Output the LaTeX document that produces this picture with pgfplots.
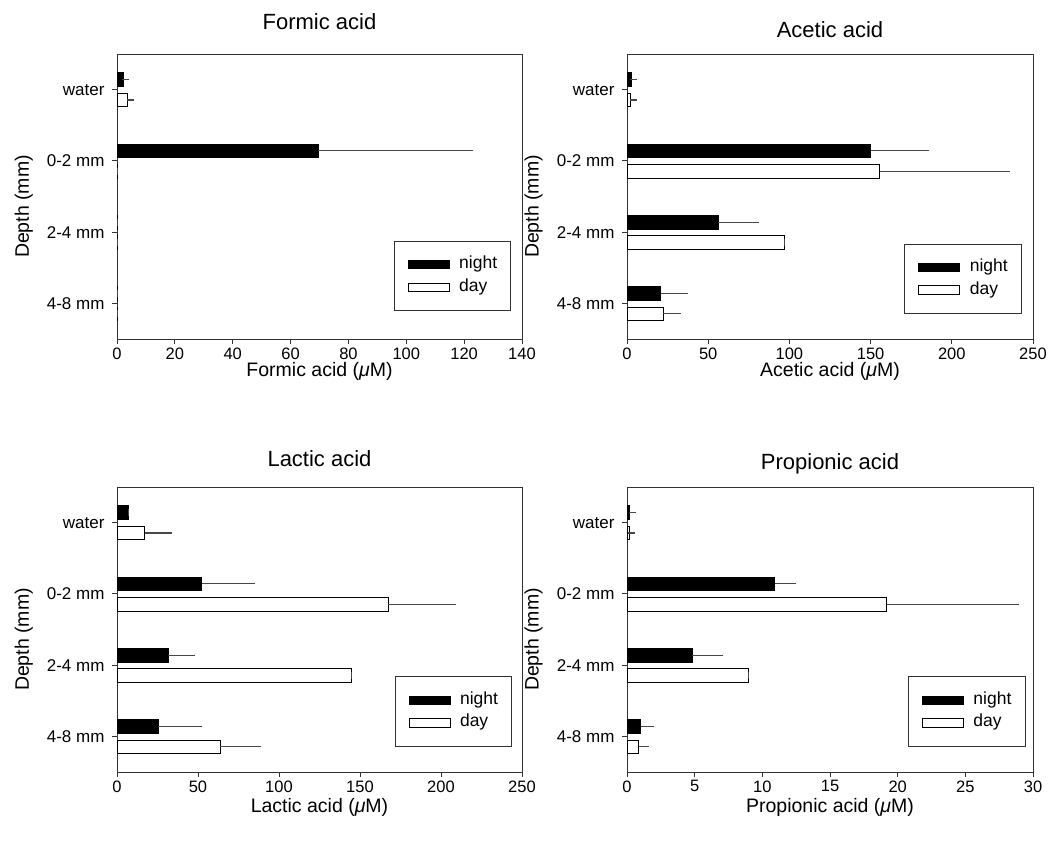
\documentclass[border=0pt]{standalone}
\usepackage{fontspec}
\setmainfont{Liberation Sans}
\usepackage{pgfplots}
\pgfplotsset{compat=1.18}
\newcommand{\um}{{\itshape μ}}
\pgfplotsset{
  acid/.style={
    scale only axis, width=405pt, height=285pt,
    xbar, bar width=0.19,
    ymin=-0.5, ymax=3.5, ytick={0,1,2,3},
    yticklabels={4-8 mm,2-4 mm,0-2 mm,water},
    xmin=0,
    tick pos=left, tick align=outside, major tick length=5pt,
    axis line style={black!80, line width=0.8pt},
    tick style={black!80, line width=0.8pt},
    /pgf/number format/assume math mode=true,
    scaled x ticks=false,
    xticklabel style={font=\fontsize{16.5}{18}\selectfont},
    yticklabel style={font=\fontsize{17}{19}\selectfont, xshift=-4pt},
    label style={font=\fontsize{19.5}{22}\selectfont},
    title style={font=\fontsize{22}{25}\selectfont, anchor=center},
    ylabel={Depth (mm)},
    ylabel style={at={(axis description cs:-0.23,0.465)}, anchor=center},
    xlabel style={at={(axis description cs:0.5,-0.114)}, anchor=center},
    legend style={at={(0.973,0.098)}, anchor=south east, draw=black!80, line width=0.8pt,
      font=\fontsize{17.5}{20}\selectfont, inner xsep=13.5pt, inner ysep=15.5pt,
      row sep=6.5pt, column sep=9.7pt,
      nodes={inner sep=0pt, text height=12pt, text depth=4pt, anchor=west},
      cells={anchor=west}},
    error bars/error bar style={black!72, line width=1.1pt},
    error bars/error mark options={black!72, mark size=3.5pt, line width=1.1pt},
  },
  nightbar/.style={fill=black, draw=black, line width=0.8pt, bar shift=0.14,
    error bars/x dir=plus, error bars/x explicit,
    legend image code/.code={\draw[fill=black,draw=black,line width=0.8pt] (0pt,-4.2pt) rectangle (41pt,4.2pt);}},
  daybar/.style={fill=white, draw=black, line width=0.8pt, bar shift=-0.145,
    error bars/x dir=plus, error bars/x explicit,
    legend image code/.code={\draw[fill=white,draw=black,line width=0.8pt] (0pt,-4.2pt) rectangle (41pt,4.2pt);}},
}
\begin{document}
\begin{tikzpicture}
\path[use as bounding box] (0pt,0pt) rectangle (1048pt,844pt);
% Formic
\begin{axis}[acid, at={(117pt,505pt)}, anchor=south west,
  xmax=140, xtick={0,20,...,140},
  title={Formic acid}, title style={at={(axis description cs:0.5,1.094)}},
  xlabel={Formic acid (\um M)}]
\addplot[nightbar] coordinates {(2.3,3) +- (0.7,0) (69.5,2) +- (52.5,0) (0.2,1) +- (0,0) (0.2,0) +- (0,0)};
\addlegendentry{night}
\addplot[daybar] coordinates {(3.5,3) +- (1.1,0) (0.2,2) +- (0,0) (0.2,1) +- (0,0) (0.2,0) +- (0,0)};
\addlegendentry{day}
\end{axis}
% Acetic
\begin{axis}[acid, at={(627pt,505pt)}, anchor=south west, width=406pt,
  xmax=250, xtick={0,50,...,250},
  title={Acetic acid}, title style={at={(axis description cs:0.5,1.066)}},
  xlabel={Acetic acid (\um M)},
  legend style={at={(0.972,0.088)}}]
\addplot[nightbar] coordinates {(3,3) +- (0.7,0) (150,2) +- (34,0) (56,1) +- (23,0) (20.7,0) +- (14.8,0)};
\addlegendentry{night}
\addplot[daybar] coordinates {(2.2,3) +- (1.5,0) (155.5,2) +- (78.3,0) (97,1) +- (0,0) (22.4,0) +- (8.8,0)};
\addlegendentry{day}
\end{axis}
% Lactic
\begin{axis}[acid, at={(117pt,72pt)}, anchor=south west,
  xmax=250, xtick={0,50,...,250},
  title={Lactic acid}, title style={at={(axis description cs:0.5,1.077)}},
  xlabel={Lactic acid (\um M)}, xlabel style={at={(axis description cs:0.5,-0.124)}},
  legend style={at={(0.975,0.089)}}]
\addplot[nightbar] coordinates {(7,3) +- (0,0) (52.3,2) +- (30.8,0) (31.7,1) +- (14.4,0) (25.5,0) +- (24.7,0)};
\addlegendentry{night}
\addplot[daybar] coordinates {(17,3) +- (15,0) (167.5,2) +- (39.5,0) (144.6,1) +- (0,0) (63.6,0) +- (23.2,0)};
\addlegendentry{day}
\end{axis}
% Propionic
\begin{axis}[acid, at={(627pt,72pt)}, anchor=south west, width=406pt,
  xmax=30, xtick={0,5,...,30},
  title={Propionic acid}, title style={at={(axis description cs:0.5,1.059)}},
  xlabel={Propionic acid (\um M)}, xlabel style={at={(axis description cs:0.5,-0.124)}},
  legend style={at={(0.981,0.089)}}]
\addplot[nightbar] coordinates {(0.2,3) +- (0.17,0) (10.9,2) +- (1.35,0) (4.8,1) +- (2.07,0) (1.0,0) +- (0.72,0)};
\addlegendentry{night}
\addplot[daybar] coordinates {(0.15,3) +- (0.17,0) (19.2,2) +- (9.5,0) (9.0,1) +- (0,0) (0.86,0) +- (0.5,0)};
\addlegendentry{day}
\end{axis}
\end{tikzpicture}
\end{document}
